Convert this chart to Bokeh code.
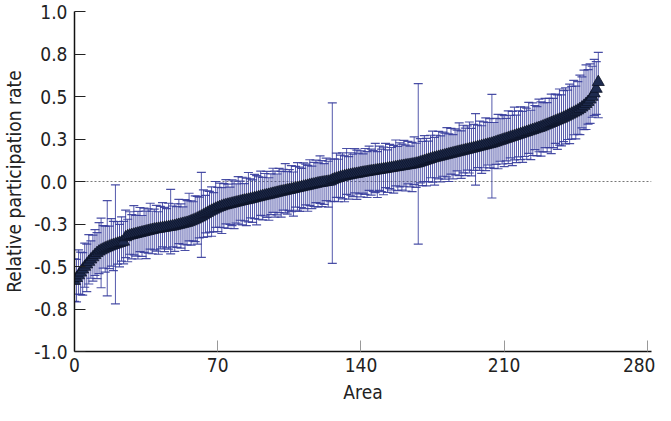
from bokeh.plotting import figure
from bokeh.models import ColumnDataSource, Whisker, TeeHead, Span, FixedTicker, Range1d
from bokeh.embed import file_html
from bokeh.resources import INLINE

# ---- data ----
mean = [
    -0.585, -0.568, -0.552, -0.536, -0.518, -0.502, -0.488, -0.473, -0.459, -0.446,
    -0.433, -0.421, -0.412, -0.405, -0.399, -0.393, -0.388, -0.383, -0.378, -0.374,
    -0.370, -0.366, -0.362, -0.358, -0.354, -0.328, -0.322, -0.318, -0.315, -0.312,
    -0.309, -0.306, -0.303, -0.300, -0.297, -0.294, -0.291, -0.288, -0.285, -0.282,
    -0.280, -0.278, -0.276, -0.274, -0.272, -0.270, -0.268, -0.266, -0.264, -0.261,
    -0.258, -0.255, -0.252, -0.249, -0.246, -0.243, -0.239, -0.234, -0.229, -0.224,
    -0.218, -0.212, -0.206, -0.199, -0.192, -0.185, -0.178, -0.172, -0.166, -0.160,
    -0.155, -0.150, -0.146, -0.142, -0.139, -0.136, -0.133, -0.130, -0.127, -0.124,
    -0.121, -0.118, -0.115, -0.112, -0.110, -0.107, -0.104, -0.101, -0.098, -0.095,
    -0.092, -0.089, -0.086, -0.083, -0.081, -0.078, -0.075, -0.072, -0.069, -0.066,
    -0.063, -0.060, -0.058, -0.055, -0.052, -0.050, -0.047, -0.044, -0.041, -0.039,
    -0.036, -0.033, -0.030, -0.028, -0.025, -0.022, -0.019, -0.017, -0.014, -0.011,
    -0.009, -0.007, -0.005, -0.003, -0.001, 0.001, 0.008, 0.013, 0.017, 0.021,
    0.025, 0.028, 0.031, 0.034, 0.036, 0.039, 0.041, 0.043, 0.045, 0.047,
    0.050, 0.052, 0.054, 0.056, 0.058, 0.060, 0.062, 0.064, 0.066, 0.068,
    0.070, 0.072, 0.074, 0.076, 0.078, 0.080, 0.082, 0.084, 0.086, 0.088,
    0.090, 0.092, 0.094, 0.096, 0.098, 0.100, 0.102, 0.105, 0.108, 0.112,
    0.116, 0.120, 0.124, 0.128, 0.132, 0.136, 0.139, 0.142, 0.145, 0.148,
    0.151, 0.154, 0.157, 0.160, 0.163, 0.166, 0.169, 0.172, 0.175, 0.178,
    0.181, 0.184, 0.187, 0.190, 0.193, 0.196, 0.199, 0.202, 0.205, 0.208,
    0.211, 0.214, 0.217, 0.220, 0.223, 0.227, 0.231, 0.235, 0.239, 0.243,
    0.247, 0.251, 0.255, 0.259, 0.263, 0.267, 0.271, 0.275, 0.279, 0.283,
    0.287, 0.291, 0.295, 0.299, 0.303, 0.307, 0.311, 0.315, 0.319, 0.324,
    0.329, 0.334, 0.339, 0.344, 0.349, 0.354, 0.359, 0.364, 0.369, 0.375,
    0.381, 0.387, 0.393, 0.399, 0.405, 0.411, 0.418, 0.426, 0.435, 0.445,
    0.456, 0.468, 0.482, 0.498, 0.518, 0.545, 0.585,
]

err_up = [
    0.13, 0.11, 0.15, 0.12, 0.10, 0.14, 0.12, 0.16, 0.11, 0.13,
    0.15, 0.12, 0.17, 0.19, 0.14, 0.13, 0.275, 0.12, 0.16, 0.14,
    0.35, 0.13, 0.11, 0.15, 0.12, 0.16, 0.10, 0.14, 0.12, 0.17,
    0.11, 0.13, 0.15, 0.10, 0.14, 0.12, 0.13, 0.16, 0.11, 0.12,
    0.14, 0.10, 0.13, 0.15, 0.12, 0.11, 0.14, 0.22, 0.12, 0.13,
    0.11, 0.15, 0.12, 0.10, 0.14, 0.13, 0.17, 0.12, 0.11, 0.14,
    0.13, 0.12, 0.26, 0.15, 0.11, 0.13, 0.12, 0.14, 0.10, 0.16,
    0.12, 0.14, 0.11, 0.13, 0.15, 0.12, 0.10, 0.14, 0.13, 0.11,
    0.15, 0.12, 0.14, 0.10, 0.13, 0.16, 0.12, 0.11, 0.14, 0.13,
    0.12, 0.15, 0.11, 0.13, 0.14, 0.10, 0.12, 0.15, 0.13, 0.11,
    0.14, 0.12, 0.13, 0.16, 0.11, 0.12, 0.14, 0.10, 0.13, 0.15,
    0.12, 0.11, 0.14, 0.13, 0.12, 0.15, 0.11, 0.13, 0.14, 0.12,
    0.16, 0.13, 0.11, 0.14, 0.12, 0.13, 0.455, 0.12, 0.15, 0.11,
    0.13, 0.14, 0.12, 0.16, 0.11, 0.13, 0.12, 0.15, 0.14, 0.12,
    0.13, 0.11, 0.14, 0.12, 0.15, 0.13, 0.12, 0.16, 0.11, 0.14,
    0.12, 0.13, 0.15, 0.11, 0.14, 0.12, 0.13, 0.16, 0.12, 0.14,
    0.13, 0.15, 0.12, 0.14, 0.11, 0.13, 0.16, 0.12, 0.468, 0.14,
    0.12, 0.15, 0.13, 0.11, 0.14, 0.16, 0.12, 0.13, 0.15, 0.12,
    0.14, 0.13, 0.16, 0.12, 0.15, 0.11, 0.14, 0.13, 0.17, 0.12,
    0.15, 0.13, 0.14, 0.16, 0.12, 0.14, 0.20, 0.13, 0.15, 0.12,
    0.14, 0.16, 0.13, 0.15, 0.29, 0.12, 0.14, 0.16, 0.13, 0.15,
    0.14, 0.12, 0.16, 0.13, 0.15, 0.17, 0.12, 0.14, 0.16, 0.13,
    0.15, 0.14, 0.17, 0.12, 0.16, 0.14, 0.13, 0.17, 0.15, 0.14,
    0.16, 0.13, 0.15, 0.17, 0.14, 0.16, 0.15, 0.18, 0.14, 0.16,
    0.17, 0.15, 0.18, 0.16, 0.19, 0.15, 0.17, 0.20, 0.18, 0.21,
    0.23, 0.19, 0.21, 0.18, 0.20, 0.16, 0.175,
]

err_down = [
    0.12, 0.14, 0.11, 0.13, 0.15, 0.12, 0.16, 0.13, 0.11, 0.14,
    0.12, 0.15, 0.13, 0.22, 0.11, 0.14, 0.285, 0.13, 0.12, 0.15,
    0.35, 0.12, 0.14, 0.11, 0.13, 0.12, 0.15, 0.11, 0.14, 0.12,
    0.13, 0.15, 0.11, 0.14, 0.12, 0.16, 0.13, 0.11, 0.14, 0.12,
    0.13, 0.15, 0.12, 0.11, 0.14, 0.12, 0.13, 0.16, 0.12, 0.15,
    0.13, 0.11, 0.14, 0.12, 0.16, 0.13, 0.11, 0.14, 0.12, 0.13,
    0.15, 0.12, 0.24, 0.13, 0.11, 0.14, 0.12, 0.15, 0.13, 0.11,
    0.14, 0.12, 0.16, 0.13, 0.11, 0.14, 0.12, 0.13, 0.15, 0.12,
    0.13, 0.11, 0.14, 0.12, 0.15, 0.13, 0.11, 0.14, 0.12, 0.16,
    0.13, 0.11, 0.14, 0.12, 0.13, 0.15, 0.12, 0.11, 0.14, 0.13,
    0.12, 0.15, 0.11, 0.13, 0.14, 0.12, 0.13, 0.16, 0.11, 0.13,
    0.14, 0.12, 0.13, 0.11, 0.15, 0.12, 0.14, 0.13, 0.11, 0.14,
    0.12, 0.14, 0.13, 0.11, 0.15, 0.12, 0.49, 0.13, 0.11, 0.14,
    0.12, 0.13, 0.15, 0.11, 0.14, 0.12, 0.13, 0.11, 0.15, 0.12,
    0.14, 0.12, 0.13, 0.15, 0.11, 0.14, 0.12, 0.13, 0.16, 0.12,
    0.13, 0.15, 0.11, 0.14, 0.12, 0.13, 0.15, 0.11, 0.14, 0.12,
    0.14, 0.12, 0.15, 0.11, 0.13, 0.16, 0.12, 0.14, 0.476, 0.12,
    0.14, 0.12, 0.15, 0.13, 0.11, 0.14, 0.16, 0.12, 0.13, 0.15,
    0.12, 0.14, 0.13, 0.16, 0.12, 0.15, 0.13, 0.11, 0.14, 0.16,
    0.13, 0.15, 0.12, 0.14, 0.16, 0.13, 0.22, 0.12, 0.14, 0.16,
    0.13, 0.15, 0.12, 0.14, 0.32, 0.15, 0.13, 0.16, 0.12, 0.14,
    0.16, 0.13, 0.15, 0.12, 0.17, 0.14, 0.16, 0.13, 0.15, 0.17,
    0.14, 0.16, 0.13, 0.17, 0.15, 0.12, 0.16, 0.14, 0.17, 0.15,
    0.13, 0.16, 0.14, 0.18, 0.15, 0.13, 0.17, 0.15, 0.16, 0.14,
    0.16, 0.14, 0.17, 0.15, 0.13, 0.16, 0.14, 0.15, 0.12, 0.14,
    0.15, 0.13, 0.14, 0.12, 0.13, 0.15, 0.21,
]

area = list(range(len(mean)))
x_ticks = [0, 70, 140, 210, 280]
y_ticks = [-1.0, -0.75, -0.5, -0.25, 0.0, 0.25, 0.5, 0.75, 1.0]
y_tick_labels = ["-1.0", "-0.8", "-0.5", "-0.3", "0.0", "0.3", "0.5", "0.8", "1.0"]

upper = [m + u for m, u in zip(mean, err_up)]
lower = [m - d for m, d in zip(mean, err_down)]
source = ColumnDataSource(dict(area=area, mean=mean, upper=upper, lower=lower))

FONT = "'DejaVu Sans Condensed', Roboto, sans-serif"
BAR = "#363c9c"

p = figure(width=655, height=405, output_backend="svg", toolbar_location=None,
           x_range=Range1d(0, 282), y_range=Range1d(-1.0, 1.0),
           min_border_top=11, min_border_right=4, min_border_left=0, min_border_bottom=0)
p.outline_line_color = None
p.xgrid.visible = False
p.ygrid.visible = False
p.background_fill_color = "white"

zero = Span(location=0, dimension="width", line_color="#777777", line_width=1,
            line_dash="2 2", level="underlay")
p.add_layout(zero)

w = Whisker(base="area", upper="upper", lower="lower", source=source,
            line_color=BAR, line_width=1, line_alpha=0.85,
            upper_head=TeeHead(size=9, line_color=BAR, line_width=1.2, line_alpha=0.9),
            lower_head=TeeHead(size=9, line_color=BAR, line_width=1.2, line_alpha=0.9),
            level="underlay")
p.add_layout(w)

p.scatter("area", "mean", source=source, marker="triangle", size=12,
          fill_color="#1e2b4f", line_color="#0c1326", line_width=0.8)

p.xaxis.ticker = FixedTicker(ticks=x_ticks)
p.yaxis.ticker = FixedTicker(ticks=y_ticks)
p.yaxis.major_label_overrides = {t: l for t, l in zip(y_ticks, y_tick_labels)}
p.xaxis.axis_label = "Area"
p.yaxis.axis_label = "Relative participation rate"

for ax in (p.xaxis, p.yaxis):
    ax.axis_line_color = "#111111"
    ax.axis_line_width = 1.5
    ax.major_tick_out = 0
    ax.major_tick_in = 11
    ax.minor_tick_out = 0
    ax.minor_tick_in = 0
    ax.major_label_text_font = FONT
    ax.major_label_text_font_size = "19px"
    ax.major_label_text_color = "#222222"
    ax.axis_label_text_font = FONT
    ax.axis_label_text_font_size = "19px"
    ax.axis_label_text_font_style = "normal"
    ax.axis_label_text_color = "#222222"

p.yaxis.major_tick_line_color = "#222222"
p.xaxis.major_tick_line_color = "#999999"
p.yaxis.major_label_standoff = 7
p.xaxis.major_label_standoff = 6
p.yaxis.axis_label_standoff = 6
p.xaxis.axis_label_standoff = 6

open("out.html", "w").write(file_html(p, INLINE))
